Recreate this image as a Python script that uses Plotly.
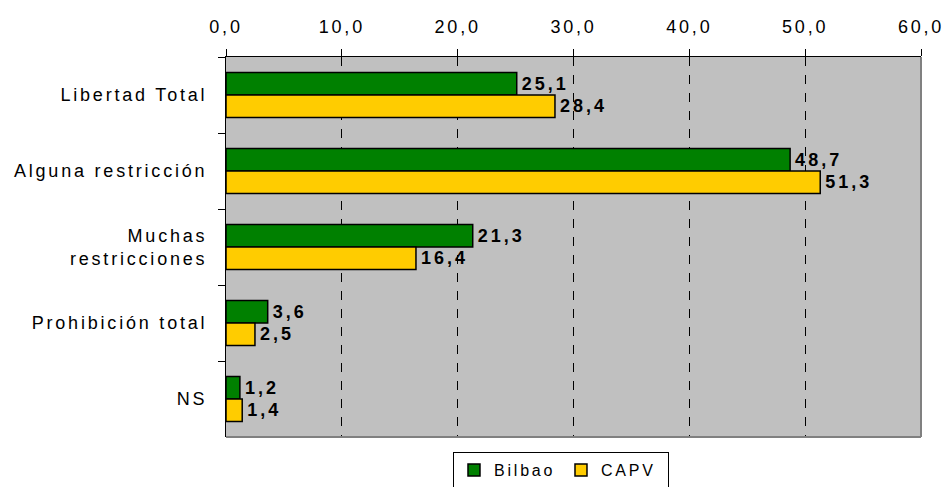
import plotly.graph_objects as go

categories = ["Libertad Total", "Alguna restricción", "Muchas<br>restricciones",
              "Prohibición total", "NS"]
bilbao = [25.1, 48.7, 21.3, 3.6, 1.2]
capv = [28.4, 51.3, 16.4, 2.5, 1.4]
tick_vals = [0, 10, 20, 30, 40, 50, 60]

FONT = "Liberation Sans, Arial, sans-serif"

fig = go.Figure()
fig.add_trace(go.Bar(
    y=categories, x=bilbao, orientation="h", name="Bilbao",
    marker=dict(color="#008000", line=dict(color="#000000", width=1.5)),
    text=bilbao, texttemplate="%{x:.1f}", textposition="outside",
    textfont=dict(family=FONT, size=18, color="#000000", weight="bold"),
    cliponaxis=False,
))
fig.add_trace(go.Bar(
    y=categories, x=capv, orientation="h", name="CAPV",
    marker=dict(color="#FFCC00", line=dict(color="#000000", width=1.5)),
    text=capv, texttemplate="%{x:.1f}", textposition="outside",
    textfont=dict(family=FONT, size=18, color="#000000", weight="bold"),
    cliponaxis=False,
))

fig.update_layout(
    width=946, height=487,
    margin=dict(l=226, r=25, t=57, b=50, autoexpand=False),
    paper_bgcolor="#FFFFFF",
    plot_bgcolor="#C0C0C0",
    separators=",.",
    barmode="group",
    bargap=0.41,
    bargroupgap=0,
    font=dict(family=FONT, size=18, color="#000000"),
    xaxis=dict(
        side="top", range=[0, 60], tickvals=tick_vals, tickformat=".1f",
        showgrid=True, gridcolor="#000000", griddash="dash", gridwidth=1,
        zeroline=False, showline=True, linecolor="#000000", linewidth=1,
        ticks="outside", ticklen=7, tickcolor="#000000", tickwidth=1,
        tickfont=dict(family=FONT, size=18, color="#000000"),
        ticklabelstandoff=9, automargin=False,
    ),
    yaxis=dict(
        autorange="reversed", type="category",
        showline=True, linecolor="#000000", linewidth=1,
        ticks="outside", ticklen=7, tickcolor="#000000", tickson="boundaries",
        showgrid=False,
        tickfont=dict(family=FONT, size=18, color="#000000"),
        ticklabelstandoff=14, automargin=False,
    ),
    legend=dict(
        orientation="h", x=0.482, xanchor="center", y=-0.04, yanchor="top",
        bordercolor="#000000", borderwidth=1, bgcolor="#FFFFFF",
        font=dict(family=FONT, size=16, color="#000000"),
        entrywidth=62, entrywidthmode="pixels", tracegroupgap=0,
        itemwidth=30,
    ),
    shapes=[
        dict(type="line", xref="paper", yref="paper", x0=1, x1=1, y0=0, y1=1,
             line=dict(color="#808080", width=2), layer="above"),
        dict(type="line", xref="paper", yref="paper", x0=0, x1=1, y0=0, y1=0,
             line=dict(color="#808080", width=2), layer="above"),
    ],
)

post = """
document.body.style.margin = '0';
var gd = document.getElementById('{plot_id}');
function spaceText() {
  gd.querySelectorAll('.xtick text, .ytick text, text.legendtext')
    .forEach(function (t) { t.setAttribute('letter-spacing', '2.8px'); });
  gd.querySelectorAll('text.bartext').forEach(function (t) {
    if (t.getAttribute('data-ls')) { return; }
    var sp = 3;
    t.setAttribute('letter-spacing', sp + 'px');
    var x = parseFloat(t.getAttribute('x') || '0');
    t.setAttribute('x', x + t.textContent.length * sp / 2 + 2);
    t.setAttribute('data-ls', '1');
  });
}
spaceText();
if (gd.on) { gd.on('plotly_afterplot', spaceText); }
"""

fig.write_html("out.html", post_script=post, config={"displayModeBar": False})
